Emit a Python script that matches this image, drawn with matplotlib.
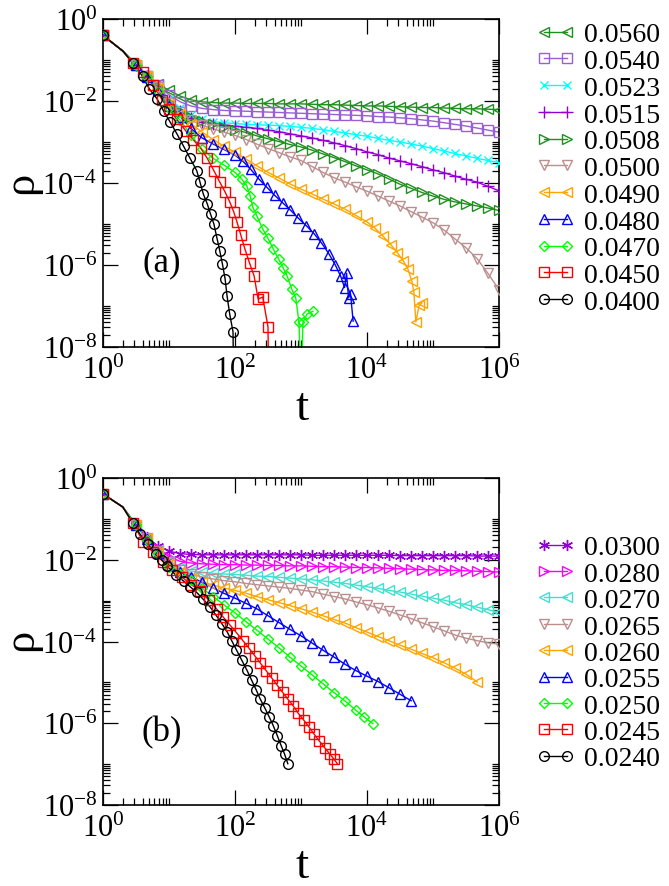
import numpy as np
import matplotlib
matplotlib.use('Agg')
import matplotlib.pyplot as plt
from matplotlib.lines import Line2D
from matplotlib.ticker import FixedLocator, NullFormatter, LogFormatterSciNotation

plt.rcParams['font.family'] = ['Liberation Serif', 'DejaVu Serif']
plt.rcParams['mathtext.fontset'] = 'custom'
plt.rcParams['mathtext.rm'] = 'Liberation Serif'
plt.rcParams['mathtext.it'] = 'Liberation Serif:italic'

# values are log10(t) and log10(rho)
grid = [0, 0.3, 0.5, 0.67, 0.83, 1.0, 1.17, 1.33, 1.5, 1.67, 1.83, 2.0, 2.17, 2.33, 2.5, 2.67, 2.83, 3.0,
        3.17, 3.33, 3.5, 3.67, 3.83, 4.0, 4.17, 4.33, 4.5, 4.67, 4.83, 5.0, 5.17, 5.33, 5.5, 5.67, 5.83, 6.0]

# ---- panel (a)
a0560 = [-0.40, -0.78, -1.12, -1.38, -1.58, -1.74, -1.88, -1.97, -2.02, -2.04, -2.05, -2.05, -2.06, -2.06, -2.06, -2.07,
         -2.07, -2.07, -2.08, -2.09, -2.09, -2.10, -2.11, -2.12, -2.12, -2.13, -2.14, -2.15, -2.16, -2.16, -2.17, -2.18,
         -2.19, -2.19, -2.20, -2.21]
a0540 = [-0.40, -0.78, -1.12, -1.38, -1.6, -1.85, -2.02, -2.12, -2.18, -2.21, -2.23, -2.24, -2.25, -2.26, -2.27, -2.28,
         -2.29, -2.30, -2.31, -2.32, -2.33, -2.34, -2.35, -2.36, -2.38, -2.39, -2.41, -2.43, -2.46, -2.49, -2.53, -2.57,
         -2.61, -2.66, -2.71, -2.76]
a0523 = [-0.40, -0.78, -1.12, -1.38, -1.62, -1.95, -2.18, -2.35, -2.45, -2.5, -2.53, -2.55, -2.57, -2.58, -2.59, -2.6,
         -2.62, -2.64, -2.67, -2.7, -2.74, -2.78, -2.82, -2.86, -2.91, -2.96, -3.0, -3.05, -3.1, -3.16, -3.22, -3.28,
         -3.34, -3.4, -3.45, -3.5]
a0515 = [-0.40, -0.78, -1.12, -1.38, -1.63, -2.0, -2.25, -2.42, -2.5, -2.55, -2.58, -2.61, -2.64, -2.67, -2.71, -2.75,
         -2.8, -2.85, -2.9, -2.96, -3.02, -3.09, -3.16, -3.24, -3.31, -3.39, -3.46, -3.53, -3.6, -3.68, -3.75, -3.83,
         -3.91, -3.98, -4.08, -4.19]
a0508 = [-0.40, -0.78, -1.12, -1.38, -1.64, -2.02, -2.24, -2.38, -2.48, -2.56, -2.63, -2.7, -2.77, -2.85, -2.92, -2.99,
         -3.06, -3.12, -3.2, -3.29, -3.38, -3.48, -3.58, -3.68, -3.78, -3.9, -4.03, -4.13, -4.23, -4.32, -4.4, -4.46,
         -4.51, -4.56, -4.61, -4.67]
a0500 = [-0.40, -0.78, -1.12, -1.38, -1.65, -2.05, -2.28, -2.47, -2.59, -2.68, -2.76, -2.84, -2.94, -3.05, -3.16, -3.26,
         -3.36, -3.45, -3.6, -3.74, -3.87, -3.98, -4.09, -4.2, -4.32, -4.44, -4.56, -4.7, -4.83, -4.97, -5.15, -5.36,
         -5.58, -5.85, -6.2, -6.6]
t0490 = grid[:24] + [4.12, 4.24, 4.36, 4.46, 4.55, 4.62, 4.68, 4.71, 4.74, 4.79, 4.83]
a0490 = [-0.40, -0.78, -1.12, -1.4, -1.68, -2.07, -2.32, -2.55, -2.76, -2.94, -3.1, -3.25, -3.42, -3.58, -3.74, -3.88,
         -4.02, -4.15, -4.27, -4.39, -4.51, -4.64, -4.79, -4.95, -5.1, -5.29, -5.5, -5.7, -5.9, -6.1, -6.4, -6.66,
         -7.39, -6.98, -6.93]
t0480 = grid[:12] + [2.12, 2.24, 2.36, 2.48, 2.6, 2.72, 2.84, 2.96, 3.08, 3.2, 3.31, 3.42, 3.52, 3.6, 3.66, 3.69,
                     3.72, 3.75, 3.79]
a0480 = [-0.40, -0.78, -1.12, -1.41, -1.72, -2.12, -2.38, -2.67, -2.9, -3.05, -3.18, -3.32, -3.47, -3.67, -3.9, -4.1,
         -4.3, -4.48, -4.66, -4.86, -5.04, -5.24, -5.46, -5.72, -6.0, -6.27, -6.55, -6.2, -6.8, -6.7, -7.37]
t0470 = grid[:12] + [2.1, 2.18, 2.23, 2.27, 2.33, 2.42, 2.5, 2.58, 2.66, 2.73, 2.79, 2.86, 2.92, 2.97, 3.0, 3.03,
                     3.09, 3.18]
a0470 = [-0.40, -0.78, -1.12, -1.42, -1.76, -2.17, -2.47, -2.82, -3.18, -3.4, -3.56, -3.74, -3.9, -4.07, -4.32, -4.59,
         -4.8, -5.12, -5.35, -5.61, -5.85, -6.07, -6.27, -6.59, -6.8, -7.4, -9, -7.4, -7.2, -7.13]
t0450 = [0, 0.3, 0.45, 0.6, 0.75, 0.9, 1.0, 1.12, 1.25, 1.37, 1.48, 1.58, 1.68, 1.77, 1.85, 1.92, 1.98, 2.03, 2.09,
         2.15, 2.22, 2.29, 2.35, 2.42, 2.5, 2.51]
a0450 = [-0.40, -0.78, -1.07, -1.29, -1.6, -1.98, -2.2, -2.45, -2.72, -2.95, -3.15, -3.4, -3.7, -3.98, -4.22, -4.46,
         -4.7, -4.95, -5.28, -5.61, -5.95, -6.27, -6.83, -6.78, -7.51, -9]
t0400 = [0, 0.3, 0.45, 0.6, 0.7, 0.82, 0.92, 1.02, 1.12, 1.22, 1.32, 1.42, 1.47, 1.52, 1.58, 1.63, 1.68, 1.73, 1.77,
         1.81, 1.85, 1.88, 1.92, 1.97, 1.98]
a0400 = [-0.40, -0.78, -1.07, -1.4, -1.7, -1.95, -2.25, -2.52, -2.8, -3.1, -3.4, -3.7, -3.98, -4.27, -4.51, -4.76,
         -5.0, -5.37, -5.66, -5.98, -6.34, -6.76, -7.2, -7.63, -9]

# ---- panel (b)
b0300 = [-0.39, -0.71, -1.15, -1.45, -1.66, -1.79, -1.85, -1.87, -1.88, -1.88, -1.88, -1.88, -1.88, -1.88, -1.88, -1.88,
         -1.88, -1.88, -1.89, -1.89, -1.89, -1.89, -1.89, -1.89, -1.89, -1.89, -1.9, -1.9, -1.9, -1.9, -1.9, -1.9,
         -1.9, -1.91, -1.91, -1.91]
b0280 = [-0.39, -0.71, -1.15, -1.45, -1.72, -1.93, -2.04, -2.08, -2.1, -2.11, -2.12, -2.12, -2.13, -2.13, -2.14, -2.14,
         -2.15, -2.15, -2.16, -2.17, -2.17, -2.18, -2.19, -2.19, -2.2, -2.21, -2.22, -2.23, -2.24, -2.25, -2.26, -2.26,
         -2.27, -2.28, -2.29, -2.3]
b0270 = [-0.39, -0.71, -1.15, -1.46, -1.76, -2.02, -2.2, -2.28, -2.31, -2.33, -2.35, -2.36, -2.38, -2.4, -2.41, -2.43,
         -2.45, -2.47, -2.49, -2.52, -2.55, -2.58, -2.62, -2.66, -2.7, -2.75, -2.79, -2.84, -2.89, -2.94, -2.99, -3.05,
         -3.1, -3.16, -3.22, -3.28]
b0265 = [-0.39, -0.71, -1.15, -1.47, -1.78, -2.06, -2.25, -2.35, -2.42, -2.47, -2.51, -2.54, -2.58, -2.61, -2.64, -2.67,
         -2.7, -2.74, -2.78, -2.84, -2.9, -2.96, -3.03, -3.1, -3.18, -3.26, -3.35, -3.44, -3.54, -3.64, -3.74, -3.84,
         -3.92, -3.98, -4.03, -4.07]
t0260 = grid[:34]
b0260 = [-0.39, -0.71, -1.15, -1.48, -1.8, -2.1, -2.3, -2.44, -2.54, -2.62, -2.69, -2.75, -2.82, -2.9, -2.98, -3.05,
         -3.12, -3.2, -3.28, -3.37, -3.46, -3.55, -3.66, -3.77, -3.88, -3.98, -4.09, -4.19, -4.29, -4.4, -4.52, -4.65,
         -4.8, -4.99]
t0255 = grid[:28]
b0255 = [-0.39, -0.71, -1.15, -1.5, -1.83, -2.13, -2.3, -2.42, -2.55, -2.69, -2.82, -2.94, -3.07, -3.2, -3.37, -3.54,
         -3.7, -3.86, -4.04, -4.21, -4.38, -4.56, -4.71, -4.85, -4.98, -5.13, -5.29, -5.45]
t0250 = grid[:23] + [3.96, 4.09]
b0250 = [-0.39, -0.71, -1.15, -1.51, -1.86, -2.17, -2.35, -2.5, -2.7, -2.9, -3.1, -3.3, -3.52, -3.72, -3.94, -4.16,
         -4.38, -4.6, -4.82, -5.03, -5.25, -5.46, -5.68, -5.85, -6.01]
t0245 = [0, 0.3, 0.45, 0.61, 0.76, 0.91, 1.05, 1.2, 1.34, 1.47, 1.6, 1.72, 1.82, 1.92, 2.02, 2.12, 2.21, 2.3, 2.38,
         2.47, 2.56, 2.64, 2.72, 2.8, 2.88, 2.96, 3.04, 3.12, 3.2, 3.28, 3.36, 3.44, 3.5, 3.55]
b0245 = [-0.39, -0.71, -1.1, -1.56, -1.82, -2.05, -2.24, -2.43, -2.61, -2.76, -2.98, -3.2, -3.4, -3.59, -3.78, -3.98,
         -4.16, -4.35, -4.52, -4.71, -4.9, -5.07, -5.24, -5.41, -5.57, -5.76, -5.92, -6.09, -6.27, -6.44, -6.6, -6.76,
         -6.88, -6.99]
t0240 = [0, 0.3, 0.45, 0.56, 0.68, 0.8, 0.89, 0.97, 1.1, 1.22, 1.32, 1.42, 1.52, 1.62, 1.71, 1.8, 1.88, 1.95, 2.02,
         2.1, 2.18, 2.25, 2.32, 2.38, 2.45, 2.52, 2.58, 2.64, 2.7, 2.75, 2.8]
b0240 = [-0.39, -0.71, -1.1, -1.37, -1.62, -1.85, -2.0, -2.15, -2.37, -2.52, -2.66, -2.8, -2.97, -3.15, -3.35, -3.56,
         -3.76, -3.98, -4.2, -4.45, -4.7, -4.94, -5.18, -5.4, -5.62, -5.85, -6.06, -6.3, -6.55, -6.75, -6.99]

labels_a = ['0.0560', '0.0540', '0.0523', '0.0515', '0.0508', '0.0500', '0.0490', '0.0480', '0.0470', '0.0450', '0.0400']
labels_b = ['0.0300', '0.0280', '0.0270', '0.0265', '0.0260', '0.0255', '0.0250', '0.0245', '0.0240']

GREEN4 = '#1f8f1f'
curves_a = [
    (grid, a0560, GREEN4, '<', 7),
    (grid, a0540, '#9a5fd4', 's', 6.5),
    (grid, a0523, '#00ffff', 'x', 6),
    (grid, a0515, '#9400d3', '+', 8),
    (grid, a0508, GREEN4, '>', 7),
    (grid, a0500, '#bc8f8f', 'v', 7),
    (t0490, a0490, '#ffa500', '<', 7),
    (t0480, a0480, '#0000ff', '^', 7),
    (t0470, a0470, '#00ff00', 'D', 5),
    (t0450, a0450, '#ff0000', 's', 6.5),
    (t0400, a0400, '#000000', 'o', 7),
]
curves_b = [
    (grid, b0300, '#9400d3', (6, 2, 0), 8),
    (grid, b0280, '#ff00ff', '>', 7),
    (grid, b0270, '#40e0d0', '<', 7),
    (grid, b0265, '#bc8f8f', 'v', 7),
    (t0260, b0260, '#ffa500', '<', 7),
    (t0255, b0255, '#0000ff', '^', 7),
    (t0250, b0250, '#00ff00', 'D', 5),
    (t0245, b0245, '#ff0000', 's', 6.5),
    (t0240, b0240, '#000000', 'o', 7),
]

W, H = 669, 887
fig = plt.figure(figsize=(W / 100, H / 100), dpi=100)
ax_a = fig.add_axes([103 / W, 1 - 348 / H, 396 / W, 328 / H])
ax_b = fig.add_axes([103 / W, 1 - 806 / H, 396 / W, 327 / H])


def draw(ax, curves, labels, panel, leg_top, leg_sp):
    handles = []
    for (lt, lr, col, mk, ms), lab in zip(curves, labels):
        t = 10 ** np.array(lt, dtype=float)
        r = 10 ** np.array(lr, dtype=float)
        ax.plot(t, r, color=col, lw=1.0, zorder=2)
        keep = [i for i in range(len(t)) if i != 1]
        ax.plot(t[keep], r[keep], ls='none', marker=mk, ms=ms, mfc='none', mec=col, mew=1.0, zorder=3)
        handles.append(Line2D([], [], color=col, lw=1.0, marker=mk, ms=ms, mfc='none', mec=col, mew=1.0))
    ax.set_xscale('log')
    ax.set_yscale('log')
    ax.set_xlim(1, 1e6)
    ax.set_ylim(1e-8, 1)
    ax.xaxis.set_major_locator(FixedLocator([1, 1e2, 1e4, 1e6]))
    ax.yaxis.set_major_locator(FixedLocator([1e-8, 1e-6, 1e-4, 1e-2, 1]))
    ax.xaxis.set_minor_locator(FixedLocator([k * 10.0 ** e for e in (0, 2, 4) for k in range(2, 11)]))
    ax.yaxis.set_minor_locator(FixedLocator([k * 10.0 ** e for e in (-8, -6, -4, -2) for k in range(2, 11)]))
    ax.xaxis.set_major_formatter(LogFormatterSciNotation())
    ax.yaxis.set_major_formatter(LogFormatterSciNotation())
    ax.xaxis.set_minor_formatter(NullFormatter())
    ax.yaxis.set_minor_formatter(NullFormatter())
    ax.tick_params(which='both', direction='in', top=True, right=True, width=0.9, labelsize=22)
    ax.tick_params(which='major', length=10.5)
    ax.tick_params(which='minor', length=5)
    ax.tick_params(axis='x', pad=6)
    ax.tick_params(axis='y', pad=4)
    for s in ax.spines.values():
        s.set_linewidth(1.2)
    ax.text(162, panel[1], panel[0], transform=None, fontsize=25, ha='center', va='center')
    ax.legend(handles, labels, loc='upper left', bbox_to_anchor=(536 / W, 1 - leg_top / H),
              bbox_transform=fig.transFigure, frameon=False, numpoints=2, handlelength=1.4,
              handletextpad=0.32, labelspacing=leg_sp, borderpad=0, borderaxespad=0, fontsize=20)


draw(ax_a, curves_a, labels_a, ('(a)', H - 263), 23, 0.047)
draw(ax_b, curves_b, labels_b, ('(b)', H - 733), 536, 0.033)

for ylab, xlab in ((183, 409), (640, 867)):
    fig.text(21 / W, 1 - ylab / H, '\u03c1', rotation=90, fontsize=32, ha='center', va='center')
    fig.text(302 / W, 1 - xlab / H, 't', fontsize=34, ha='center', va='center')

fig.savefig('out.png', dpi=100)
